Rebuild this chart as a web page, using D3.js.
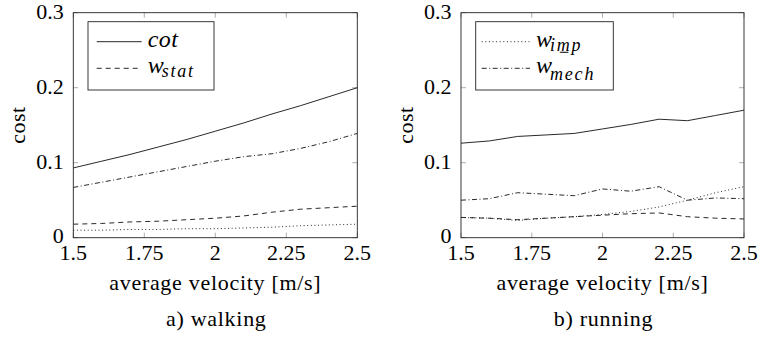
<!DOCTYPE html>
<html>
<head>
<meta charset="utf-8">
<script src="https://cdn.jsdelivr.net/npm/d3@7"></script>
<style>
  html body svg text { font-family: "Liberation Serif", "Times New Roman", "DejaVu Serif" !important; }
</style>
</head>
<body style="margin:0">
<svg id="chart" width="759" height="338"></svg>
<script>
// velocities (m/s)
var velocity = [1.5, 1.6, 1.7, 1.8, 1.9, 2.0, 2.1, 2.2, 2.3, 2.4, 2.5];
var xTicks = [1.5, 1.75, 2, 2.25, 2.5];
var yTicks = [0, 0.1, 0.2, 0.3];

// walking
var walkCot   = [0.093, 0.102, 0.111, 0.121, 0.131, 0.142, 0.153, 0.165, 0.176, 0.188, 0.200];
var walkMech  = [0.067, 0.074, 0.081, 0.088, 0.095, 0.102, 0.108, 0.112, 0.119, 0.128, 0.139];
var walkStat  = [0.018, 0.019, 0.021, 0.022, 0.024, 0.026, 0.029, 0.034, 0.038, 0.040, 0.042];
var walkImp   = [0.010, 0.010, 0.011, 0.011, 0.012, 0.012, 0.013, 0.014, 0.016, 0.017, 0.018];

// running
var runCot    = [0.126, 0.129, 0.135, 0.137, 0.139, 0.145, 0.151, 0.158, 0.156, 0.163, 0.170];
var runMech   = [0.050, 0.052, 0.060, 0.058, 0.056, 0.065, 0.062, 0.068, 0.050, 0.053, 0.052];
var runStat   = [0.027, 0.026, 0.024, 0.026, 0.028, 0.030, 0.032, 0.033, 0.028, 0.026, 0.025];
var runImp    = [0.027, 0.026, 0.023, 0.026, 0.028, 0.031, 0.035, 0.041, 0.050, 0.060, 0.068];

var dashes = { cot: null, stat: "5,4", imp: "1,2.6", mech: "5,2.5,1,2.5" };

var svg = d3.select("#chart");

function label(size) {
  return svg.append("text")
    .style("font-family", "'Liberation Serif', 'Times New Roman', 'DejaVu Serif'", "important")
    .attr("font-size", size);
}

function drawPanel(opts) {
  var x = d3.scaleLinear().domain([1.5, 2.5]).range([opts.left, opts.right]),
      y = d3.scaleLinear().domain([0, 0.3]).range([237.7, 12.7]);

  // grey inward ticks on all four sides
  var tickLen = 5;
  xTicks.forEach(function(t) {
    svg.append("line").attr("x1", x(t)).attr("x2", x(t)).attr("y1", y(0)).attr("y2", y(0) - tickLen)
      .attr("stroke", "#999").attr("stroke-width", 0.8);
    svg.append("line").attr("x1", x(t)).attr("x2", x(t)).attr("y1", y(0.3)).attr("y2", y(0.3) + tickLen)
      .attr("stroke", "#999").attr("stroke-width", 0.8);
    label(22).attr("x", x(t)).attr("y", y(0) + 22.5).attr("text-anchor", "middle").text(d3.format("")(t));
  });
  yTicks.forEach(function(t) {
    svg.append("line").attr("x1", x(1.5)).attr("x2", x(1.5) + tickLen).attr("y1", y(t)).attr("y2", y(t))
      .attr("stroke", "#999").attr("stroke-width", 0.8);
    svg.append("line").attr("x1", x(2.5)).attr("x2", x(2.5) - tickLen).attr("y1", y(t)).attr("y2", y(t))
      .attr("stroke", "#999").attr("stroke-width", 0.8);
    label(22).attr("x", x(1.5) - 9.5).attr("y", y(t) + (t === 0 ? 5.5 : 6.5)).attr("text-anchor", "end")
      .text(t === 0 ? "0" : d3.format(".1f")(t));
  });

  var line = d3.line().x(function(d) { return x(d[0]); }).y(function(d) { return y(d[1]); });

  opts.series.forEach(function(s) {
    svg.append("path")
      .datum(velocity.map(function(v, i) { return [v, s.values[i]]; }))
      .attr("d", line)
      .attr("fill", "none")
      .attr("stroke", "#111")
      .attr("stroke-width", 0.9)
      .attr("stroke-dasharray", dashes[s.style]);
  });

  // frame
  svg.append("rect").attr("x", x(1.5)).attr("y", y(0.3))
    .attr("width", x(2.5) - x(1.5)).attr("height", y(0) - y(0.3))
    .attr("fill", "none").attr("stroke", "#222").attr("stroke-width", 0.9);

  var cx = (x(1.5) + x(2.5)) / 2;
  label(22).attr("x", cx).attr("y", 290).attr("text-anchor", "middle")
    .attr("letter-spacing", 0.7).text("average velocity [m/s]");
  label(22).attr("transform", "translate(" + (x(1.5) - 48) + ",125) rotate(-90)")
    .attr("text-anchor", "middle").attr("letter-spacing", 0.5).text("cost");
  label(22).attr("x", cx + 1).attr("y", 326).attr("text-anchor", "middle")
    .attr("letter-spacing", 0.7).text(opts.caption);

  // legend
  svg.append("rect").attr("x", opts.legend.x).attr("y", 21.7).attr("width", opts.legend.w).attr("height", 68.3)
    .attr("fill", "#fff").attr("stroke", "#222").attr("stroke-width", 0.9);
  opts.legend.items.forEach(function(it, i) {
    var ly = 41.7 + i * 26.6;
    svg.append("line").attr("x1", opts.legend.x + opts.legend.l0).attr("x2", opts.legend.x + opts.legend.l1)
      .attr("y1", ly).attr("y2", ly)
      .attr("stroke", "#111").attr("stroke-width", 0.9).attr("stroke-dasharray", dashes[it.style]);
    var tx = opts.legend.x + opts.legend.l1 + 6;
    label(24).attr("x", tx).attr("y", ly + 5).attr("font-style", "italic")
      .attr("letter-spacing", 0.5).text(it.main);
    if (it.sup) {
      label(18).attr("x", tx + 23).attr("y", ly - 10).text(it.sup);
    }
    if (it.sub) {
      label(18).attr("x", tx + 14).attr("y", ly + (it.sup ? 12 : 9))
        .attr("font-style", "italic").attr("letter-spacing", 1.8).text(it.sub);
    }
  });
}

drawPanel({
  left: 73.3, right: 357.3, caption: "a) walking",
  series: [
    { values: walkCot, style: "cot" },
    { values: walkMech, style: "mech" },
    { values: walkStat, style: "stat" },
    { values: walkImp, style: "imp" }
  ],
  legend: { x: 88, w: 126, l0: 8.7, l1: 53.7,
    items: [{ main: "cot", style: "cot" }, { main: "w", sub: "stat", style: "stat" }] }
});

drawPanel({
  left: 461, right: 744, caption: "b) running",
  series: [
    { values: runCot, style: "cot" },
    { values: runMech, style: "mech" },
    { values: runStat, style: "stat" },
    { values: runImp, style: "imp" }
  ],
  legend: { x: 475.7, w: 137.6, l0: 6, l1: 54.3,
    items: [{ main: "w", sub: "imp", style: "imp" }, { main: "w", sup: "\u2212", sub: "mech", style: "mech" }] }
});
</script>
</body>
</html>
